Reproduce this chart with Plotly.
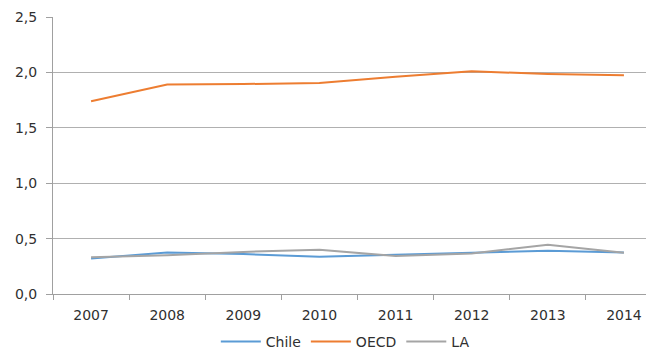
import plotly.graph_objects as go

years = ["2007", "2008", "2009", "2010", "2011", "2012", "2013", "2014"]
chile = [0.32, 0.375, 0.36, 0.337, 0.355, 0.372, 0.39, 0.375]
oecd = [1.74, 1.89, 1.895, 1.905, 1.96, 2.01, 1.985, 1.975]
la = [0.332, 0.35, 0.38, 0.40, 0.342, 0.366, 0.445, 0.372]

fig = go.Figure()
for name, vals, col in [("Chile", chile, "#5B9BD5"), ("OECD", oecd, "#ED7D31"), ("LA", la, "#A5A5A5")]:
    fig.add_trace(go.Scatter(x=years, y=vals, name=name, mode="lines",
                             line=dict(color=col, width=2)))

fig.update_layout(
    width=654, height=351,
    margin=dict(l=45, r=0, t=9, b=65, autoexpand=False),
    paper_bgcolor="white", plot_bgcolor="white",
    separators=",.",
    font=dict(family="DejaVu Sans, Verdana, sans-serif", size=14, color="#303030"),
    showlegend=True,
    legend=dict(orientation="h", x=0.48, xanchor="center", y=-0.173, yanchor="middle",
                font=dict(size=14), itemwidth=40),
)
fig.update_xaxes(type="category", tickson="boundaries", ticks="outside", ticklen=5,
                 tickcolor="#A0A0A0", showline=True, linecolor="#A0A0A0", linewidth=1,
                 showgrid=False, range=[-0.5, 7.5], automargin=False,
                 ticklabelstandoff=8)
fig.update_yaxes(range=[0, 2.5], dtick=0.5, tickformat=".1f", showgrid=True,
                 gridcolor="#B0B0B0", gridwidth=1, showline=True, linecolor="#A0A0A0",
                 ticks="outside", ticklen=6, tickcolor="#A0A0A0", zeroline=False,
                 automargin=False, ticklabelstandoff=6)

fig.write_html("out.html")
